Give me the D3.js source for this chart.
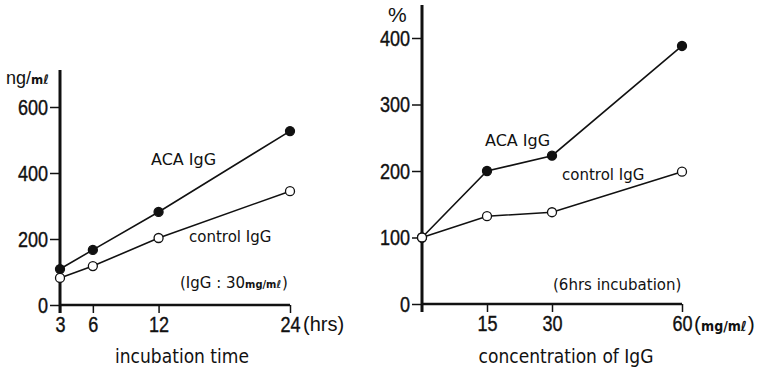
<!DOCTYPE html>
<html>
<head>
<meta charset="utf-8">
<script src="https://cdn.jsdelivr.net/npm/d3@7"></script>
<style>
  body { margin: 0; background: #fff; }
  text { font-family: "DejaVu Sans", sans-serif; fill: #111; }
  .tk { font-family: "Liberation Sans", Arial, sans-serif; font-size: 22px; transform-box: fill-box; stroke: #111; stroke-width: 0.4px; }
  .tx { transform: scaleX(0.82); transform-origin: center; }
  .ty { transform: scaleX(0.82); transform-origin: right center; }
  .unit { font-family: "Liberation Sans", Arial, sans-serif; }
  .sm { font-family: "DejaVu Sans Condensed", "DejaVu Sans", sans-serif; font-weight: bold; }
</style>
</head>
<body>
<div id="chart"></div>
<script>
// left panel: incubation time (hrs)
const hours = [3, 6, 12, 24];
const acaTime = [109, 167, 282, 527];
const ctrlTime = [82, 118, 203, 345];
const leftYTicks = [0, 200, 400, 600];

// right panel: concentration of IgG (mg/ml)
const conc = [0, 15, 30, 60];
const acaConc = [100, 200, 223, 388];
const ctrlConc = [100, 132, 138, 199];
const rightXTicks = [15, 30, 60];
const rightYTicks = [0, 100, 200, 300, 400];

const svg = d3.select('#chart')
    .append('svg')
    .attr('width', 760)
    .attr('height', 374);

function drawPanel(opt) {
    const g = svg.append('g');
    const x = d3.scaleLinear().domain(opt.xDomain).range(opt.xRange);
    const y = d3.scaleLinear().domain(opt.yDomain).range(opt.yRange);

    // y axis
    const yAx = g.append('g')
        .attr('transform', `translate(${opt.xRange[0]},0)`)
        .call(d3.axisLeft(y).tickValues(opt.yTicks).tickSize(10).tickSizeOuter(0).tickPadding(2));
    yAx.select('.domain').remove();
    yAx.selectAll('.tick line').attr('stroke', '#111').attr('stroke-width', 1.5);
    yAx.selectAll('.tick text').attr('class', 'tk ty').attr('fill', '#111').attr('font-size', null).attr('font-family', null);
    g.append('line')
        .attr('x1', opt.xRange[0]).attr('x2', opt.xRange[0])
        .attr('y1', opt.yTop).attr('y2', opt.yRange[0] + 8)
        .attr('stroke', '#111').attr('stroke-width', 3);

    // x axis
    const xAx = g.append('g')
        .attr('transform', `translate(0,${opt.yRange[0]})`)
        .call(d3.axisBottom(x).tickValues(opt.xTicks).tickSize(8).tickSizeOuter(0).tickPadding(3));
    xAx.select('.domain').remove();
    xAx.selectAll('.tick line').attr('stroke', '#111').attr('stroke-width', 1.5);
    xAx.selectAll('.tick text').attr('class', 'tk tx').attr('fill', '#111').attr('font-size', null).attr('font-family', null);
    g.append('line')
        .attr('x1', opt.xRange[0]).attr('x2', opt.xRange[1])
        .attr('y1', opt.yRange[0]).attr('y2', opt.yRange[0])
        .attr('stroke', '#111').attr('stroke-width', 2.5);

    const line = d3.line()
        .x(d => x(d[0]))
        .y(d => y(d[1]));

    opt.series.forEach(s => {
        const pts = opt.xs.map((v, i) => [v, s.values[i]]);
        g.append('path')
            .datum(pts)
            .attr('fill', 'none')
            .attr('stroke', '#111')
            .attr('stroke-width', 1.6)
            .attr('d', line);
        g.selectAll(null)
            .data(pts)
            .enter()
            .append('circle')
            .attr('cx', d => x(d[0]))
            .attr('cy', d => y(d[1]))
            .attr('r', 4.5)
            .attr('fill', s.filled ? '#111' : '#fff')
            .attr('stroke', '#111')
            .attr('stroke-width', 1.3);
    });

    opt.labels.forEach(l => {
        const t = g.append('text')
            .attr('x', l.x).attr('y', l.y)
            .attr('text-anchor', l.anchor || 'start')
            .attr('class', l.cls || null)
            .style('font-family', l.family || null)
            .style('font-size', l.size + 'px');
        (l.parts || [[l.text]]).forEach(p => {
            t.append('tspan')
                .attr('class', p[1] ? 'sm' : null)
                .style('font-size', p[1] ? p[1] + 'px' : null)
                .text(p[0]);
        });
        // closing bracket as its own text, placed after the measured label
        if (l.close) {
            const b = t.node().getBBox();
            g.append('text')
                .attr('x', b.x + b.width + 1).attr('y', l.y)
                .attr('class', l.cls || null)
                .style('font-family', l.family || null)
                .style('font-size', l.size + 'px')
                .text(')');
        }
    });
}

drawPanel({
    xDomain: [3, 24], xRange: [60, 290],
    yDomain: [0, 600], yRange: [305, 107],
    yTop: 70,
    xs: hours, xTicks: hours, yTicks: leftYTicks,
    series: [
        {values: acaTime, filled: true},
        {values: ctrlTime, filled: false}
    ],
    labels: [
        {parts: [['ng/'], ['mℓ', 13]], x: 6, y: 84, size: 18, cls: 'unit'},
        {text: 'ACA IgG', x: 151, y: 165, size: 16},
        {text: 'control IgG', x: 189, y: 242, size: 15},
        {parts: [['(IgG : 30'], ['mg/mℓ', 11]], close: true, x: 180, y: 288, size: 15},
        {parts: [['(hrs)']], x: 303, y: 331, size: 20, cls: 'unit'},
        {text: 'incubation time', x: 182, y: 363, size: 19, anchor: 'middle', family: 'DejaVu Sans Condensed'}
    ]
});

drawPanel({
    xDomain: [0, 60], xRange: [422, 682],
    yDomain: [0, 400], yRange: [304, 38],
    yTop: 5,
    xs: conc, xTicks: rightXTicks, yTicks: rightYTicks,
    series: [
        {values: acaConc, filled: true},
        {values: ctrlConc, filled: false}
    ],
    labels: [
        {text: '%', x: 388, y: 22, size: 21, family: 'Liberation Sans'},
        {text: 'ACA IgG', x: 485, y: 146, size: 16},
        {text: 'control IgG', x: 562, y: 180, size: 15},
        {text: '(6hrs incubation)', x: 553, y: 290, size: 15, family: 'DejaVu Sans'},
        {parts: [['('], ['mg/mℓ', 14]], close: true, x: 694, y: 331, size: 21, cls: 'unit'},
        {text: 'concentration of IgG', x: 566, y: 363, size: 19, anchor: 'middle', family: 'DejaVu Sans Condensed'}
    ]
});
</script>
</body>
</html>
